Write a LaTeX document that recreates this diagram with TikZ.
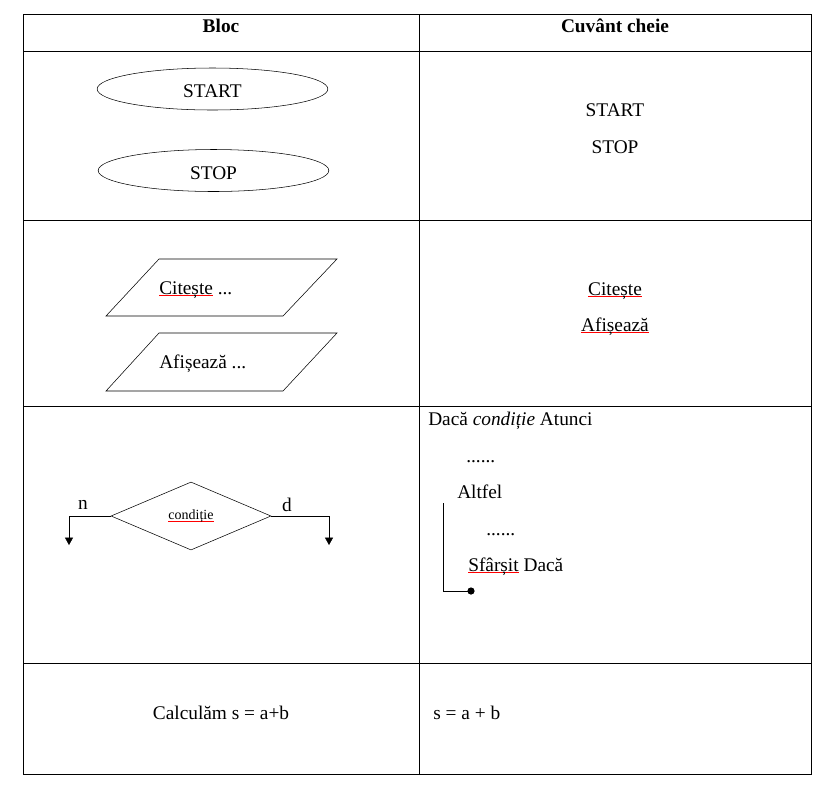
\documentclass[tikz,border=0pt]{standalone}
\usepackage{fontspec}
\setmainfont{Liberation Serif}
\usetikzlibrary{shapes.geometric,arrows.meta}

\newlength\spellw
\newcommand{\spellmark}[1]{\settowidth{\spellw}{#1}\rlap{\color{red}\rule[-1.6pt]{\spellw}{0.7pt}}#1}

\begin{document}
\begin{tikzpicture}[x=0.75pt,y=-0.75pt,font=\fontsize{14.5}{17}\selectfont]
\useasboundingbox (0,0) rectangle (829,794);
% table
\draw (23,14) rectangle (811,774);
\draw (419,14) -- (419,774);
\foreach \y in {51,220,406,663}
    \draw (23,\y) -- (811,\y);
\node[anchor=base,font=\fontsize{14.5}{17}\selectfont\bfseries] (H1) at (221,32) {Bloc};
\node[anchor=base,font=\fontsize{14.5}{17}\selectfont\bfseries] (H2) at (615,32) {Cuvânt cheie};
% start / stop
\begin{scope}[every node/.style={ellipse,draw,inner sep=0pt,text height=13pt,text depth=0pt,
                                 minimum width=173pt,minimum height=31.5pt}]
    \node (A) at (212.5,89) {START};
    \node (B) at (213.5,170.5) {STOP};
\end{scope}
\begin{scope}[every node/.style={anchor=base}]
    \node (A1) at (615,116) {START};
    \node (B1) at (615,153) {STOP};
    \node (C1) at (615,295) {\spellmark{Citește}};
    \node (E1) at (615,331) {\spellmark{Afișează}};
    \node (K) at (221,719) {Calculăm s = a+b};
\end{scope}
% input / output
\draw (159,259) -- (337,259) -- (283,316) -- (106,316) -- cycle;
\draw (159,333) -- (337,333) -- (283,391) -- (106,391) -- cycle;
\begin{scope}[every node/.style={anchor=base west,inner sep=0pt}]
    \node (C) at (159,294) {\spellmark{Citește} ...};
    \node (E) at (159,368) {Afișează ...};
    \node (G1) at (428,425) {Dacă \textit{condiție} Atunci};
    \node (G2) at (466,462) {......};
    \node (G3) at (457,498) {Altfel};
    \node (G4) at (486,535) {......};
    \node (G5) at (468,571) {\spellmark{Sfârșit} Dacă};
    \node (K1) at (433,719) {s = a + b};
\end{scope}
% decision
\node[diamond,draw,inner sep=0pt,minimum width=120pt,minimum height=51pt,
      font=\fontsize{10.5}{12}\selectfont] (D) at (191,516) {\spellmark{condiție}};
\coordinate (n1) at (69,516);
\coordinate (n2) at (69,545);
\coordinate (d1) at (329,516);
\coordinate (d2) at (329,545);
\begin{scope}[>={Triangle[length=5.5pt,width=6pt]}]
    \draw[->] (D.west) -- (n1) -- (n2);
    \draw[->] (D.east) -- (d1) -- (d2);
\end{scope}
\node (N) at (83,505) {n};
\node (Y) at (287,505) {d};
% end of block
\coordinate (b1) at (443,503);
\coordinate (b2) at (471,591);
\draw (b1) |- (b2);
\fill (b2) circle (2.7pt);
\end{tikzpicture}
\end{document}
